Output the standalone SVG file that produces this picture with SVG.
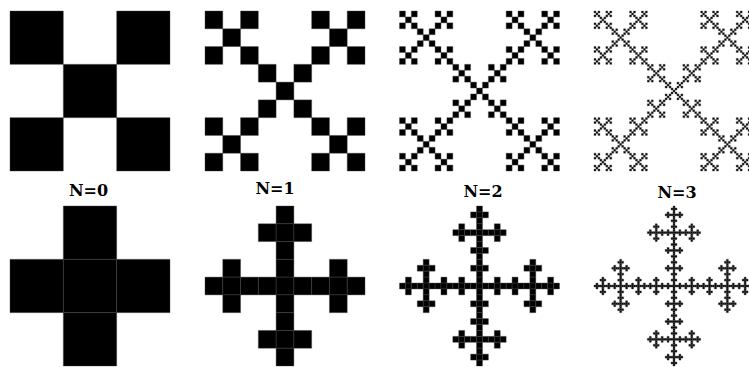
<svg xmlns="http://www.w3.org/2000/svg" xmlns:xlink="http://www.w3.org/1999/xlink" width="749" height="367" viewBox="0 0 749 367">
<style>
.cell{fill:#000;stroke:#444;stroke-width:0.4;vector-effect:non-scaling-stroke}
.lbl{font-family:"DejaVu Serif","Liberation Serif",serif;font-weight:bold;font-size:16px;fill:#000;text-anchor:middle}
</style>
<defs>
<rect id="c" class="cell" width="1" height="1"/>
<!-- X (saltire) Vicsek levels, cell = 1 unit -->
<g id="x0">
<use href="#c" x="0" y="0"/><use href="#c" x="2" y="0"/><use href="#c" x="1" y="1"/><use href="#c" x="0" y="2"/><use href="#c" x="2" y="2"/>
</g>
<g id="x1">
<use href="#x0" x="0" y="0"/><use href="#x0" x="6" y="0"/><use href="#x0" x="3" y="3"/><use href="#x0" x="0" y="6"/><use href="#x0" x="6" y="6"/>
</g>
<g id="x2">
<use href="#x1" x="0" y="0"/><use href="#x1" x="18" y="0"/><use href="#x1" x="9" y="9"/><use href="#x1" x="0" y="18"/><use href="#x1" x="18" y="18"/>
</g>
<g id="x3">
<use href="#x2" x="0" y="0"/><use href="#x2" x="54" y="0"/><use href="#x2" x="27" y="27"/><use href="#x2" x="0" y="54"/><use href="#x2" x="54" y="54"/>
</g>
<!-- cross Vicsek levels -->
<g id="p0">
<use href="#c" x="1" y="0"/><use href="#c" x="0" y="1"/><use href="#c" x="1" y="1"/><use href="#c" x="2" y="1"/><use href="#c" x="1" y="2"/>
</g>
<g id="p1">
<use href="#p0" x="3" y="0"/><use href="#p0" x="0" y="3"/><use href="#p0" x="3" y="3"/><use href="#p0" x="6" y="3"/><use href="#p0" x="3" y="6"/>
</g>
<g id="p2">
<use href="#p1" x="9" y="0"/><use href="#p1" x="0" y="9"/><use href="#p1" x="9" y="9"/><use href="#p1" x="18" y="9"/><use href="#p1" x="9" y="18"/>
</g>
<g id="p3">
<use href="#p2" x="27" y="0"/><use href="#p2" x="0" y="27"/><use href="#p2" x="27" y="27"/><use href="#p2" x="54" y="27"/><use href="#p2" x="27" y="54"/>
</g>
</defs>
<g id="saltire-n0"><use href="#x0" transform="translate(10,11) scale(53.3333)"/></g>
<g id="saltire-n1"><use href="#x1" transform="translate(205,11) scale(17.7778)"/></g>
<g id="saltire-n2"><use href="#x2" transform="translate(399.5,11) scale(5.92593)"/></g>
<g id="saltire-n3"><use href="#x3" transform="translate(594,11) scale(1.97531)"/></g>
<g id="cross-n0"><use href="#p0" transform="translate(10,206) scale(53.3333)"/></g>
<g id="cross-n1"><use href="#p1" transform="translate(205,206) scale(17.7778)"/></g>
<g id="cross-n2"><use href="#p2" transform="translate(399.5,206) scale(5.92593)"/></g>
<g id="cross-n3"><use href="#p3" transform="translate(594,206) scale(1.97531)"/></g>
<g id="label-n0"><text class="lbl" x="88.5" y="196">N=0</text></g>
<g id="label-n1"><text class="lbl" x="275" y="194">N=1</text></g>
<g id="label-n2"><text class="lbl" x="483" y="197">N=2</text></g>
<g id="label-n3"><text class="lbl" x="677" y="198">N=3</text></g>
</svg>
